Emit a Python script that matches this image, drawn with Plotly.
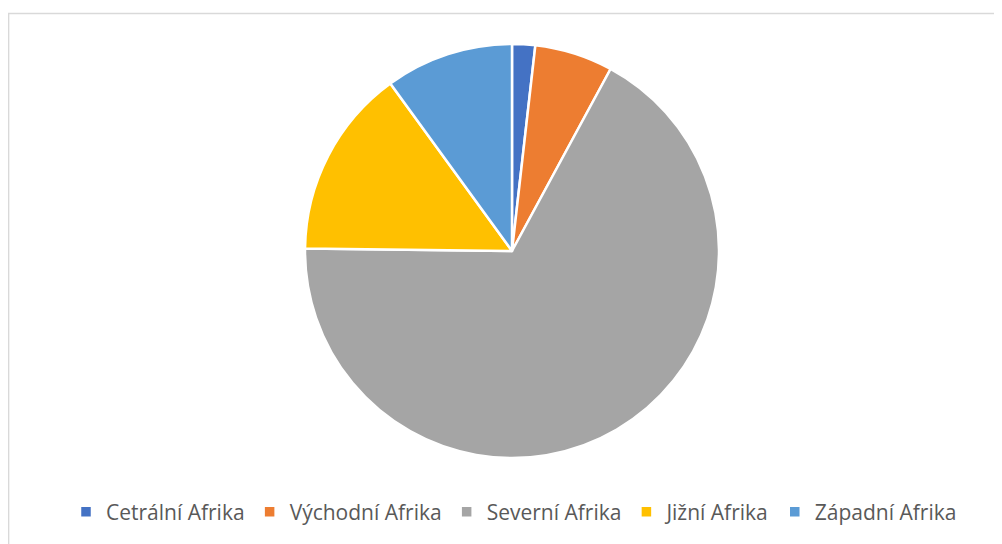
import plotly.graph_objects as go

# page body has an 8px margin; figure sized to fit the window
W, H = 994, 536
OFF = 8

categories = ["Cetrální Afrika", "Východní Afrika", "Severní Afrika", "Jižní Afrika", "Západní Afrika"]
values = [1.8, 6.1, 67.3, 14.8, 10.0]
colors = ["#4472C4", "#ED7D31", "#A5A5A5", "#FFC000", "#5B9BD5"]

fig = go.Figure(go.Pie(
    labels=categories,
    values=values,
    sort=False,
    direction="clockwise",
    rotation=0,
    textinfo="none",
    hoverinfo="label+percent",
    marker=dict(colors=colors, line=dict(color="white", width=2.5)),
    domain=dict(x=[(305 - OFF) / W, (719 - OFF) / W],
                y=[1 - (458 - OFF) / H, 1 - (44 - OFF) / H]),
))

fig.update_layout(
    width=W, height=H,
    margin=dict(l=0, r=0, t=0, b=0),
    paper_bgcolor="white",
    plot_bgcolor="white",
    showlegend=True,
    legend=dict(
        orientation="h",
        x=(514 - OFF) / W, xanchor="center",
        y=1 - (512 - OFF) / H, yanchor="middle",
        font=dict(family="Open Sans", size=21, color="#595959"),
        itemclick=False,
    ),
    shapes=[dict(
        type="rect", xref="paper", yref="paper",
        x0=0.6 / W, x1=1.02, y0=-0.02, y1=1 - 5.5 / H,
        line=dict(color="#D9D9D9", width=1.5),
        fillcolor="rgba(0,0,0,0)",
    )],
)

fig.write_html("out.html")
